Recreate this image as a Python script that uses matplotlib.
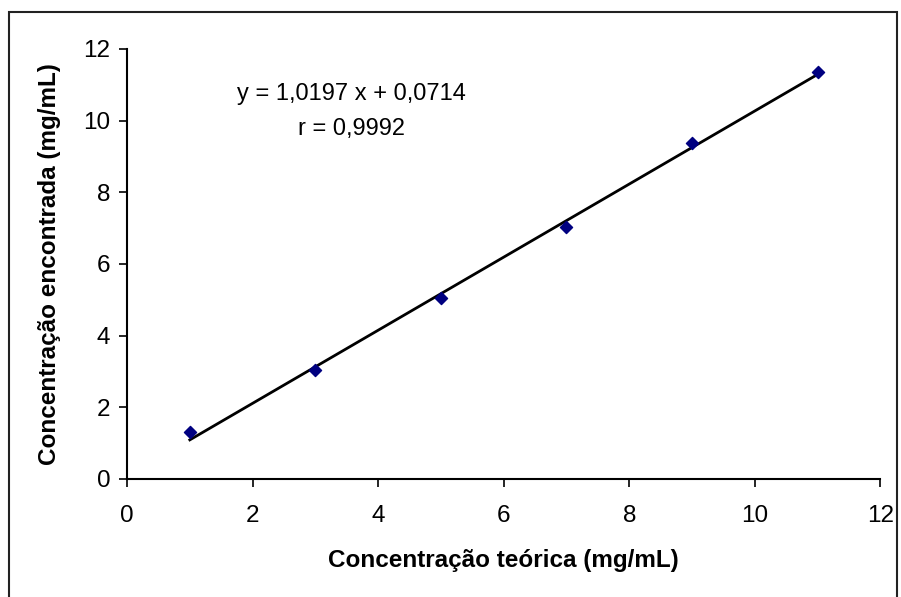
import matplotlib.pyplot as plt
import numpy as np

# concentrações (mg/mL)
teorica = [1, 3, 5, 7, 9, 11]
encontrada = [1.31, 3.04, 5.05, 7.03, 9.38, 11.36]
slope = 1.0197
intercept = 0.0714

plt.rcParams['font.family'] = ['Liberation Sans', 'DejaVu Sans']

fig = plt.figure(figsize=(9.01, 5.97), dpi=100)
ax = fig.add_axes([0.141, 0.1977, 0.836, 0.7203])

xl = np.array([teorica[0], teorica[-1]])
ax.plot(xl, slope * xl + intercept, color='black', linewidth=2)
ax.scatter(teorica, encontrada, marker='D', s=38, color='#000080', zorder=3)

ax.set_xlim(0, 12)
ax.set_ylim(0, 12)
ax.set_xticks(range(0, 13, 2))
ax.set_yticks(range(0, 13, 2))
ax.tick_params(direction='out', length=6, width=1.2, labelsize=17.5)
ax.tick_params(axis='x', pad=13)
ax.tick_params(axis='y', pad=6)
for s in ['top', 'right']:
    ax.spines[s].set_visible(False)
for s in ['left', 'bottom']:
    ax.spines[s].set_linewidth(1.5)

ax.set_xlabel('Concentração teórica (mg/mL)', fontsize=17.5, fontweight='bold')
ax.set_ylabel('Concentração encontrada (mg/mL)', fontsize=17.5, fontweight='bold')
ax.xaxis.set_label_coords(0.5, -0.19)
ax.xaxis.label.set_va('center')
ax.yaxis.set_label_coords(-0.103, 0.5)
ax.yaxis.label.set_va('center')

ax.text(3.57, 10.26, 'y = 1,0197 x + 0,0714\nr = 0,9992', fontsize=17,
        ha='center', va='center', linespacing=1.75)

# moldura da figura
fig.patches.append(plt.Rectangle((0.01, -0.01), 0.9856, 0.99, transform=fig.transFigure,
                                 fill=False, edgecolor='#222222', linewidth=1.5))

fig.savefig('out.png', dpi=100)
